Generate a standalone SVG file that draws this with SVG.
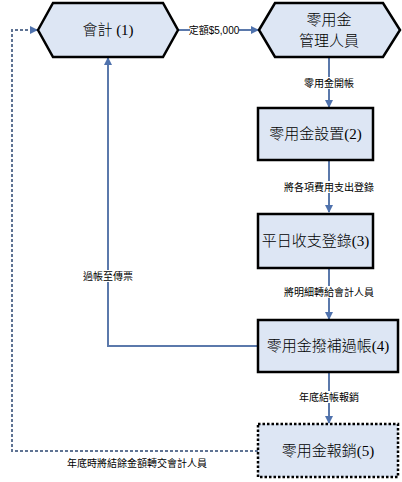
<svg xmlns="http://www.w3.org/2000/svg" width="402" height="482" viewBox="0 0 402 482">
<style>
.node{fill:#dde6f4;stroke:#000;stroke-width:2.5}
.dot{stroke-dasharray:2.5 2}
.nt{font-family:"Liberation Serif","Noto Sans CJK TC",serif;font-size:15px;font-weight:300;text-anchor:middle;fill:#000}
.lb{font-family:"Liberation Sans","Noto Sans CJK TC",sans-serif;font-size:10px;text-anchor:middle;fill:#000}
.ln{fill:none;stroke:#5b79ab;stroke-width:2}
.dl{fill:none;stroke:#5f7393;stroke-width:2;stroke-dasharray:3 2}
.bg{fill:#fff}
</style>
<defs>
<marker id="ah" markerWidth="8" markerHeight="8" refX="7" refY="4" orient="auto" markerUnits="userSpaceOnUse">
<path d="M0,0 L8,4 L0,8 Z" fill="#4f72ad"/>
</marker>
</defs>
<g id="connectors">
<line class="ln" x1="178" y1="30" x2="258" y2="30" marker-end="url(#ah)"/>
<line class="ln" x1="329" y1="57" x2="329" y2="107" marker-end="url(#ah)"/>
<line class="ln" x1="329" y1="160" x2="329" y2="212" marker-end="url(#ah)"/>
<line class="ln" x1="329" y1="268" x2="329" y2="319" marker-end="url(#ah)"/>
<line class="ln" x1="329" y1="372" x2="329" y2="423" marker-end="url(#ah)"/>
<polyline class="ln" points="258,346 108,346 108,58" marker-end="url(#ah)"/>
<polyline class="dl" points="258,451 12,451 12,30 37,30" marker-end="url(#ah)"/>
<rect class="bg" x="190" y="24" width="49" height="12"/>
<text class="lb" x="214" y="34">定額$5,000</text>
<rect class="bg" x="298" y="77" width="62" height="12"/>
<text class="lb" x="329" y="87">零用金開帳</text>
<rect class="bg" x="279" y="181" width="100" height="12"/>
<text class="lb" x="329" y="191">將各項費用支出登錄</text>
<rect class="bg" x="279" y="286" width="100" height="12"/>
<text class="lb" x="329" y="296">將明細轉給會計人員</text>
<rect class="bg" x="80" y="270" width="56" height="12"/>
<text class="lb" x="108" y="280">過帳至傳票</text>
<rect class="bg" x="294" y="391" width="70" height="12"/>
<text class="lb" x="329" y="401">年底結帳報銷</text>
<text class="lb" x="137" y="467">年底時將結餘金額轉交會計人員</text>
</g>
<g id="n1">
<polygon class="node" stroke-width="2" points="38,30 53,3 163,3 178,30 163,57 53,57"/>
<text class="nt" x="108" y="35">會計 (1)</text>
</g>
<g id="n2">
<polygon class="node" stroke-width="2" points="259,30 275,3 383,3 400,30 383,57 275,57"/>
<text class="nt" x="329" y="25">零用金</text>
<text class="nt" x="329" y="46">管理人員</text>
</g>
<g id="n3">
<rect class="node" x="258" y="108" width="115" height="52"/>
<text class="nt" x="315.5" y="139">零用金設置(2)</text>
</g>
<g id="n4">
<rect class="node" x="258" y="214" width="115" height="54"/>
<text class="nt" x="315.5" y="246">平日收支登錄(3)</text>
</g>
<g id="n5">
<rect class="node" x="258" y="320" width="140" height="52"/>
<text class="nt" x="328" y="351">零用金撥補過帳(4)</text>
</g>
<g id="n6">
<rect class="node dot" x="258" y="424" width="140" height="53"/>
<text class="nt" x="328" y="456">零用金報銷(5)</text>
</g>
</svg>
